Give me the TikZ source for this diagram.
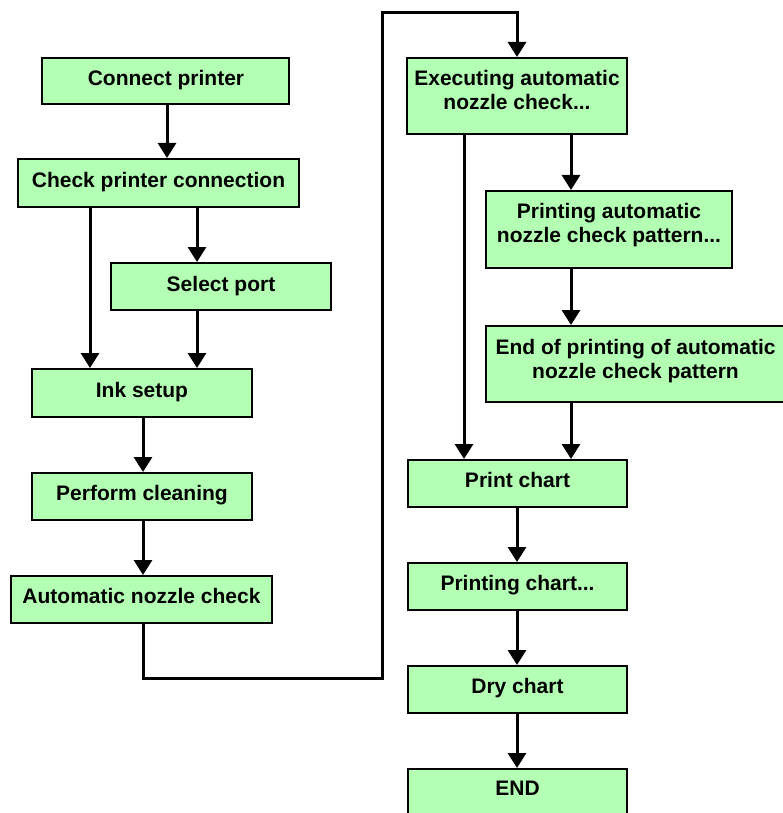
\documentclass[tikz,border=0pt]{standalone}
\usepackage{fontspec}
\setmainfont{Liberation Sans}
\usetikzlibrary{arrows.meta}
\definecolor{boxgreen}{RGB}{179,255,179}
\begin{document}
\begin{tikzpicture}[x=1pt,y=-1pt,
  box/.style={draw=black, line width=2pt, fill=boxgreen, inner sep=0pt},
  lbl/.style={font=\bfseries\fontsize{21}{24}\selectfont, align=center, inner sep=0pt, anchor=base},
  arr/.style={line width=3pt, line join=miter, -{Triangle[width=18pt,length=15pt]}},
]
\useasboundingbox (0,0) rectangle (783,813);
% left column
\node[box, minimum width=247pt, minimum height=46pt] (connect) at (165.5,81) {};
\node[lbl] (connect-t) at (166,85.5) {Connect printer};
\node[box, minimum width=281pt, minimum height=48pt] (check) at (158.5,183) {};
\node[lbl] (check-t) at (158.5,187) {Check printer connection};
\node[box, minimum width=220pt, minimum height=47pt] (port) at (221,286.5) {};
\node[lbl] (port-t) at (221,291) {Select port};
\node[box, minimum width=220pt, minimum height=48pt] (ink) at (142,393) {};
\node[lbl] (ink-t) at (142,397) {Ink setup};
\node[box, minimum width=220pt, minimum height=47pt] (clean) at (142,496.5) {};
\node[lbl] (clean-t) at (142,500.5) {Perform cleaning};
\node[box, minimum width=261pt, minimum height=47pt] (anc) at (141.5,599.5) {};
\node[lbl] (anc-t) at (141.5,603.5) {Automatic nozzle check};
% right column
\node[box, minimum width=220pt, minimum height=76pt] (exec) at (517,96) {};
\node[lbl] (exec-t) at (517,110) {Executing automatic\\nozzle check...};
\node[box, minimum width=246pt, minimum height=77pt] (pauto) at (609,229.5) {};
\node[lbl] (pauto-t) at (609,242) {Printing automatic\\nozzle check pattern...};
\node[box, minimum width=299pt, minimum height=76pt] (endp) at (635.5,364) {};
\node[lbl] (endp-t) at (635.5,378) {End of printing of automatic\\nozzle check pattern};
\node[box, minimum width=219pt, minimum height=47pt] (pchart) at (517.5,483.5) {};
\node[lbl] (pchart-t) at (517.5,487.5) {Print chart};
\node[box, minimum width=219pt, minimum height=47pt] (pingchart) at (517.5,586.5) {};
\node[lbl] (pingchart-t) at (517.5,590.5) {Printing chart...};
\node[box, minimum width=219pt, minimum height=47pt] (dry) at (517.5,689.5) {};
\node[lbl] (dry-t) at (517.5,693.5) {Dry chart};
\node[box, minimum width=219pt, minimum height=47pt] (endn) at (517.5,792.5) {};
\node[lbl] (endn-t) at (517.5,795.5) {END};
% connectors
\draw[arr] (connect.south -| 167,0) -- (check.north -| 167,0);
\draw[arr] (check.south -| 197,0) -- (port.north -| 197,0);
\draw[arr] (check.south -| 90,0) -- (ink.north -| 90,0);
\draw[arr] (port.south -| 197,0) -- (ink.north -| 197,0);
\draw[arr] (ink.south -| 143,0) -- (clean.north -| 143,0);
\draw[arr] (clean.south -| 143,0) -- (anc.north -| 143,0);
\draw[arr] (anc.south -| 143,0) -- (143,678) -- (382,678) -- (382,13) -- (517,13) -- (exec.north -| 517,0);
\draw[arr] (exec.south -| 571,0) -- (pauto.north -| 571,0);
\draw[arr] (exec.south -| 464,0) -- (pchart.north -| 464,0);
\draw[arr] (pauto.south -| 571,0) -- (endp.north -| 571,0);
\draw[arr] (endp.south -| 571,0) -- (pchart.north -| 571,0);
\draw[arr] (pchart.south -| 517,0) -- (pingchart.north -| 517,0);
\draw[arr] (pingchart.south -| 517,0) -- (dry.north -| 517,0);
\draw[arr] (dry.south -| 517,0) -- (endn.north -| 517,0);
\end{tikzpicture}
\end{document}
